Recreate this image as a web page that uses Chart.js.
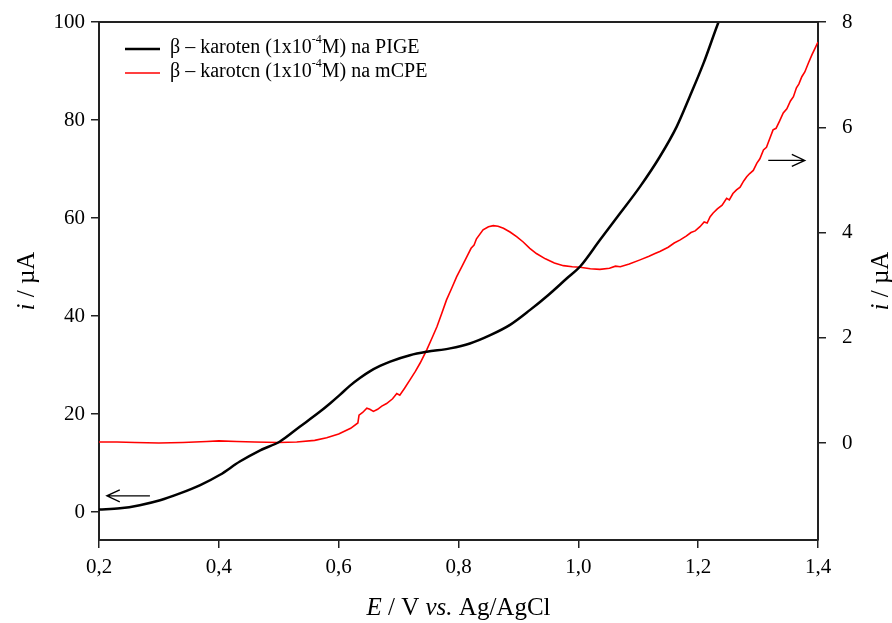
<!DOCTYPE html>
<html>
<head>
<meta charset="utf-8">
<script src="https://cdn.jsdelivr.net/npm/chart.js@4"></script>
<style>
  html, body { margin: 0; padding: 0; background: #fff; }
  #wrap { width: 892px; height: 623px; }
</style>
</head>
<body>
<div id="wrap"><canvas id="cvChart" width="892" height="623"></canvas></div>
<script>
// potential (V vs Ag/AgCl) and current for PIGE (left axis, uA)
const pigeE = [0.20, 0.235, 0.268, 0.302, 0.335, 0.369, 0.402, 0.435, 0.469, 0.502, 0.535, 0.569, 0.586,
  0.602, 0.619, 0.636, 0.652, 0.669, 0.686, 0.719, 0.747, 0.786, 0.819, 0.853, 0.886, 0.919, 0.950,
  0.981, 1.003, 1.036, 1.070, 1.103, 1.136, 1.164, 1.186, 1.209, 1.234, 1.24];
const pigeI = [0.5, 0.75, 1.4, 2.4, 3.8, 5.5, 7.6, 10.3, 12.6, 14.4, 17.4, 20.5, 22.2,
  23.9, 25.8, 27.4, 28.7, 29.8, 30.7, 32.0, 32.7, 33.4, 34.4, 36.1, 38.2, 41.2, 44.3,
  47.7, 50.1, 55.5, 61.0, 66.4, 72.5, 78.6, 84.8, 91.6, 100, 101.8];

// mCPE (right axis, uA)
const mcpeE = [0.20, 0.23, 0.26, 0.30, 0.34, 0.38, 0.40, 0.43, 0.46, 0.50, 0.53, 0.56, 0.58, 0.60, 0.62,
  0.632, 0.634, 0.640, 0.647, 0.652, 0.658, 0.665, 0.672, 0.680, 0.690, 0.697, 0.702, 0.710, 0.719,
  0.728, 0.736, 0.747, 0.756, 0.764, 0.772, 0.780, 0.789, 0.797, 0.806, 0.814, 0.821, 0.826, 0.830,
  0.841, 0.850, 0.858, 0.866, 0.875, 0.886, 0.897, 0.908, 0.919, 0.930, 0.945, 0.960, 0.975, 0.990,
  1.003, 1.020, 1.036, 1.052, 1.062, 1.070, 1.085, 1.103, 1.118, 1.128, 1.136, 1.150, 1.160, 1.170,
  1.180, 1.188, 1.195, 1.203, 1.210, 1.215, 1.220, 1.225, 1.232, 1.240, 1.2475, 1.252, 1.258, 1.264,
  1.270, 1.276, 1.281, 1.286, 1.292, 1.298, 1.303, 1.309, 1.314, 1.320, 1.325, 1.330, 1.336, 1.342,
  1.348, 1.354, 1.359, 1.364, 1.368, 1.373, 1.378, 1.384, 1.390, 1.395, 1.400];
const mcpeI = [0.02, 0.02, 0.01, 0.00, 0.01, 0.03, 0.04, 0.03, 0.02, 0.01, 0.02, 0.05, 0.10, 0.17, 0.28,
  0.38, 0.53, 0.58, 0.66, 0.64, 0.60, 0.64, 0.70, 0.75, 0.84, 0.94, 0.91, 1.04, 1.20,
  1.36, 1.52, 1.77, 2.00, 2.21, 2.46, 2.72, 2.95, 3.16, 3.36, 3.54, 3.70, 3.76, 3.88,
  4.05, 4.11, 4.13, 4.12, 4.08, 4.01, 3.92, 3.82, 3.70, 3.60, 3.50, 3.42, 3.37, 3.35,
  3.34, 3.31, 3.30, 3.32, 3.36, 3.35, 3.40, 3.48, 3.55, 3.60, 3.64, 3.72, 3.80, 3.86,
  3.93, 4.00, 4.03, 4.11, 4.20, 4.18, 4.30, 4.37, 4.45, 4.52, 4.65, 4.62, 4.74, 4.81,
  4.86, 4.98, 5.06, 5.12, 5.18, 5.32, 5.40, 5.57, 5.62, 5.80, 5.95, 5.98, 6.12, 6.27,
  6.35, 6.50, 6.58, 6.75, 6.82, 6.96, 7.05, 7.22, 7.38, 7.50, 7.62];

const xTicks = [0.2, 0.4, 0.6, 0.8, 1.0, 1.2, 1.4];
const leftTicks = [0, 20, 40, 60, 80, 100];
const rightTicks = [0, 2, 4, 6, 8];
const legendLabels = [
  ['\u03b2 \u2013 karoten (1x10', '-4', 'M) na PIGE'],
  ['\u03b2 \u2013 karotcn (1x10', '-4', 'M) na mCPE']
];

const serif = "'Liberation Serif', 'Times New Roman', serif";
const ctx = document.getElementById('cvChart').getContext('2d');

function toPts(xs, ys) {
  return xs.map((x, i) => ({ x: x, y: ys[i] }));
}

function fixTicks(list) {
  return function (axis) {
    axis.ticks = list.map((v) => ({ value: v }));
  };
}

// titles, legend, arrows and top frame line
const extras = {
  id: 'extras',
  afterDraw(chart) {
    const c = chart.ctx;
    const a = chart.chartArea;
    const sx = chart.scales.x;
    const yl = chart.scales.yLeft;
    const yr = chart.scales.yRight;
    c.save();

    // top frame
    c.strokeStyle = '#222';
    c.lineWidth = 2;
    c.beginPath();
    c.moveTo(a.left, a.top);
    c.lineTo(a.right, a.top);
    c.stroke();

    // arrows
    function arrow(x1, x2, y) {
      c.strokeStyle = '#000';
      c.lineWidth = 1.3;
      c.beginPath();
      c.moveTo(x1, y);
      c.lineTo(x2, y);
      const d = x2 > x1 ? -1 : 1;
      c.moveTo(x2 + d * 13, y - 6);
      c.lineTo(x2, y);
      c.lineTo(x2 + d * 13, y + 6);
      c.stroke();
    }
    arrow(sx.getPixelForValue(0.285), sx.getPixelForValue(0.213), yl.getPixelForValue(3.3));
    arrow(sx.getPixelForValue(1.317), sx.getPixelForValue(1.378), yr.getPixelForValue(5.37));

    // axis titles
    const tf = '25px ' + serif;
    c.fillStyle = '#000';
    c.textBaseline = 'middle';
    function yTitle(cx, cy) {
      c.save();
      c.translate(cx, cy);
      c.rotate(-Math.PI / 2);
      c.font = 'italic ' + tf;
      const w1 = c.measureText('i').width;
      c.font = tf;
      const w2 = c.measureText(' / \u00b5A').width;
      const x = -(w1 + w2) / 2;
      c.textAlign = 'left';
      c.font = 'italic ' + tf;
      c.fillText('i', x, 0);
      c.font = tf;
      c.fillText(' / \u00b5A', x + w1, 0);
      c.restore();
    }
    const midY = (a.top + a.bottom) / 2;
    yTitle(27, midY);
    yTitle(881, midY);

    const parts = [['E', true], [' / V ', false], ['vs.', true], [' Ag/AgCl', false]];
    let total = 0;
    parts.forEach((p) => {
      c.font = (p[1] ? 'italic ' : '') + tf;
      total += c.measureText(p[0]).width;
    });
    let bx = (a.left + a.right) / 2 - total / 2;
    c.textAlign = 'left';
    parts.forEach((p) => {
      c.font = (p[1] ? 'italic ' : '') + tf;
      c.fillText(p[0], bx, 608);
      bx += c.measureText(p[0]).width;
    });

    // legend
    const colors = ['#000', '#ff0000'];
    const widths = [2.5, 1.5];
    const rows = [48, 72];
    legendLabels.forEach((lab, i) => {
      c.strokeStyle = colors[i];
      c.lineWidth = widths[i];
      c.beginPath();
      c.moveTo(a.left + 26, rows[i] + 1);
      c.lineTo(a.left + 61, rows[i] + 1);
      c.stroke();
      let tx = a.left + 71;
      c.font = '20px ' + serif;
      c.fillText(lab[0], tx, rows[i]);
      tx += c.measureText(lab[0]).width;
      c.font = '12px ' + serif;
      c.fillText(lab[1], tx, rows[i] - 8);
      tx += c.measureText(lab[1]).width;
      c.font = '20px ' + serif;
      c.fillText(lab[2], tx, rows[i]);
    });
    c.restore();
  }
};

const axisCommon = {
  grid: { display: true, drawOnChartArea: false, drawTicks: true, tickLength: 8, color: '#222', lineWidth: 1.5 },
  border: { display: true, color: '#222', width: 2 },
};

const chart = new Chart(ctx, {
  type: 'scatter',
  data: {
    datasets: [
      {
        label: 'PIGE',
        data: toPts(pigeE, pigeI),
        yAxisID: 'yLeft',
        showLine: true,
        borderColor: '#000',
        borderWidth: 2.5,
        pointRadius: 0,
        cubicInterpolationMode: 'monotone',
      },
      {
        label: 'mCPE',
        data: toPts(mcpeE, mcpeI),
        yAxisID: 'yRight',
        showLine: true,
        borderColor: '#ff0000',
        borderWidth: 1.6,
        pointRadius: 0,
        tension: 0,
      },
    ],
  },
  options: {
    responsive: false,
    animation: false,
    layout: { padding: { top: 22, left: 0, right: 0, bottom: 0 } },
    plugins: { legend: { display: false }, tooltip: { enabled: false } },
    scales: {
      x: {
        type: 'linear',
        min: 0.2,
        max: 1.4,
        afterBuildTicks: fixTicks(xTicks),
        afterFit: (s) => { s.height = 83; s.paddingLeft = 0; s.paddingRight = 0; },
        ticks: {
          color: '#000',
          padding: 7,
          font: { family: serif, size: 21 },
          callback: (v) => v.toFixed(1).replace('.', ','),
        },
        ...axisCommon,
      },
      yLeft: {
        position: 'left',
        min: -5.71,
        max: 100,
        afterBuildTicks: fixTicks(leftTicks),
        afterFit: (s) => { s.width = 99; s.paddingTop = 0; s.paddingBottom = 0; },
        ticks: { color: '#000', padding: 6, font: { family: serif, size: 21 } },
        ...axisCommon,
      },
      yRight: {
        position: 'right',
        min: -1.843,
        max: 8,
        afterBuildTicks: fixTicks(rightTicks),
        afterFit: (s) => { s.width = 74; s.paddingTop = 0; s.paddingBottom = 0; },
        ticks: { color: '#000', padding: 16, font: { family: serif, size: 21 } },
        ...axisCommon,
      },
    },
  },
  plugins: [extras],
});
</script>
</body>
</html>
